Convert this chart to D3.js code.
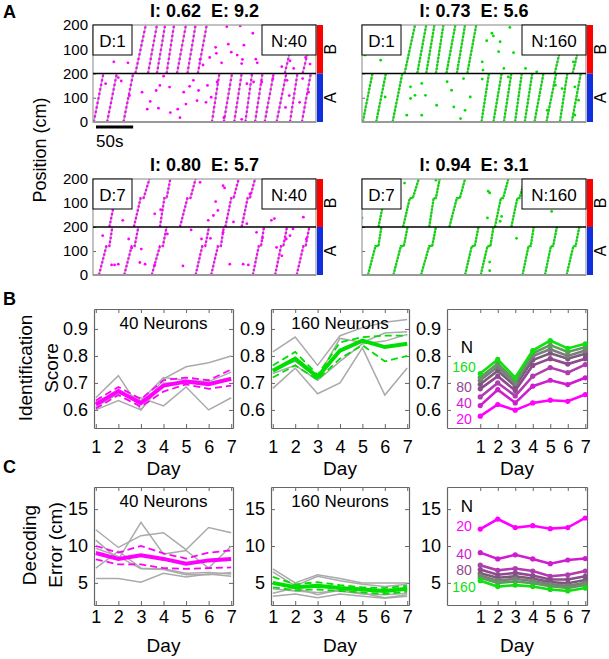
<!DOCTYPE html>
<html lang="en">
<head>
<meta charset="UTF-8">
<script src="https://d3js.org/d3.v7.min.js"></script>
<title>Decoding across days</title>
<style>
  body { margin: 0; background: #fff; }
  svg { font-family: "Liberation Sans", Arial, sans-serif; }
  .ax .domain { stroke: #666; }
  .ax .tick line { stroke: #666; }
  .ax text { fill: #000; }
</style>
</head>
<body>
<svg id="fig" width="609" height="659"></svg>
<script>
// ---------- panel A : true laps [env, t start (s), t end] or [env, t0, pause start, pause end, t end]
var pausePos = 120;
var lapsD1 = [
  ["A", 1, 14], ["A", 19, 32], ["A", 41, 54],
  ["B", 57, 71], ["B", 74, 86], ["B", 86, 97], ["B", 99, 109], ["B", 113, 125], ["B", 127, 138], ["B", 141, 153],
  ["A", 160, 170], ["A", 176, 187], ["A", 190, 200], ["A", 205, 214], ["A", 218, 228],
  ["A", 231, 243], ["A", 247, 260], ["A", 265, 275], ["A", 281, 293]
];
var stubsD1 = [["B", 258, 265, 90], ["B", 282, 288, 75]];
var lapsD7 = [
  ["A", 8, 18, 22, 26], ["A", 42, 52, 56, 61], ["A", 79, 90, 94, 99], ["A", 138, 147, 151, 156],
  ["A", 159, 168, 172, 176], ["A", 215, 223, 226, 230], ["A", 245, 253, 256, 261], ["A", 274, 283, 286, 291],
  ["B", 22, 30, 34, 40], ["B", 55, 64, 68, 76], ["B", 90, 96, 99, 104], ["B", 117, 127, 131, 138],
  ["B", 178, 186, 189, 196], ["B", 200, 208, 211, 218]
];

// decoded samples far from the true position [t, cm, env]
var strayD1N40 = [
  [28,48,"B"],[47,44,"B"],[144,58,"B"],[157,66,"B"],[165,108,"B"],[166,83,"B"],[182,121,"B"],[186,88,"B"],
  [194,76,"B"],[201,58,"B"],[203,117,"B"],[180,193,"B"],[198,196,"B"],[215,166,"B"],[219,59,"B"],[221,44,"B"],
  [245,97,"B"],[254,28,"B"],[265,52,"B"],[270,21,"B"],[286,66,"B"],[292,39,"B"],[200,41,"B"],[148,35,"B"],[173,44,"B"],
  [17,158,"A"],[34,183,"A"],[38,169,"A"],[49,109,"A"],[66,123,"A"],[73,53,"A"],[77,85,"A"],[88,57,"A"],
  [85,130,"A"],[90,151,"A"],[103,144,"A"],[104,39,"A"],[114,53,"A"],[117,18,"A"],[122,123,"A"],[125,74,"A"],
  [130,147,"A"],[140,88,"A"],[142,130,"A"],[152,81,"A"],[154,151,"A"],[159,102,"A"],[167,165,"A"],[207,158,"A"],
  [216,165,"A"],[227,165,"A"],[242,179,"A"],[261,172,"A"],[264,109,"A"],[259,60,"A"],[278,81,"A"],[282,179,"A"],
  [290,123,"A"],[176,18,"A"],[200,11,"A"],[95,189,"A"],[135,172,"A"]
];
var strayD1N160 = [
  [25,55,"B"],[4,76,"B"],[167,135,"B"],[174,166,"B"],[176,155,"B"],[185,131,"B"],[198,190,"B"],[203,86,"B"],
  [183,90,"B"],[161,48,"B"],[162,14,"B"],[190,21,"B"],[219,21,"B"],[234,7,"B"],[283,48,"B"],
  [31,103,"A"],[65,145,"A"],[71,110,"A"],[65,97,"A"],[85,110,"A"],[80,159,"A"],[100,69,"A"],[114,166,"A"],
  [120,131,"A"],[123,62,"A"],[138,48,"A"],[145,103,"A"],[136,179,"A"],[60,28,"A"],[80,28,"A"],[132,14,"A"],
  [161,177,"A"],[196,186,"A"],[248,48,"A"],[259,152,"A"],[268,138,"A"],[285,145,"A"],[285,28,"A"],[290,90,"A"]
];
var strayD7N40 = [
  [0,83,"B"],[40,28,"B"],[83,55,"B"],[91,72,"B"],[144,186,"B"],[155,28,"B"],[162,48,"B"],[165,106,"B"],
  [168,69,"B"],[175,172,"B"],[177,163,"B"],[211,138,"B"],[240,28,"B"],[244,35,"B"],[283,41,"B"],[189,21,"B"],[207,14,"B"],
  [13,164,"A"],[25,42,"A"],[29,42,"A"],[34,45,"A"],[48,150,"A"],[52,112,"A"],[65,108,"A"],[63,52,"A"],
  [70,45,"A"],[83,41,"A"],[100,171,"A"],[121,38,"A"],[132,188,"A"],[146,150,"A"],[158,153,"A"],[175,178,"A"],
  [184,45,"A"],[202,45,"A"],[209,42,"A"],[220,178,"A"],[228,154,"A"],[247,115,"A"],[254,80,"A"],[260,150,"A"],
  [269,192,"A"],[287,150,"A"],[265,164,"A"]
];
var strayD7N160 = [
  [0,100,"B"],[0,38,"B"],[57,183,"B"],[99,195,"B"],[169,149,"B"],[171,142,"B"],[168,38,"B"],[185,24,"B"],
  [187,44,"B"],[254,65,"B"],
  [207,153,"A"],[171,54,"A"],[171,18,"A"]
];

// ---------- panels B and C
var days = [1, 2, 3, 4, 5, 6, 7];

var idMean40 = [0.62, 0.67, 0.625, 0.69, 0.705, 0.695, 0.715];
var idUp40 = [0.635, 0.685, 0.64, 0.71, 0.72, 0.71, 0.75];
var idLo40 = [0.605, 0.655, 0.612, 0.668, 0.695, 0.678, 0.69];
var idMice40 = [
  [0.645, 0.727, 0.60, 0.715, 0.76, 0.775, 0.80],
  [0.60, 0.635, 0.60, 0.70, 0.70, 0.70, 0.72],
  [0.61, 0.66, 0.645, 0.615, 0.685, 0.60, 0.645],
  [0.63, 0.665, 0.635, 0.72, 0.71, 0.705, 0.74]
];
var idMean160 = [0.745, 0.79, 0.722, 0.82, 0.857, 0.833, 0.845];
var idUp160 = [0.765, 0.815, 0.73, 0.85, 0.87, 0.875, 0.875];
var idLo160 = [0.72, 0.765, 0.712, 0.79, 0.84, 0.78, 0.80];
var idMice160 = [
  [0.815, 0.87, 0.765, 0.875, 0.905, 0.925, 0.935],
  [0.68, 0.755, 0.66, 0.70, 0.83, 0.655, 0.755],
  [0.75, 0.78, 0.72, 0.865, 0.85, 0.885, 0.89],
  [0.735, 0.765, 0.71, 0.78, 0.845, 0.855, 0.88]
];

var neuronCounts = [20, 40, 60, 80, 100, 120, 140, 160];
var idByN = [
  [0.577, 0.62, 0.599, 0.626, 0.636, 0.632, 0.657],
  [0.616, 0.675, 0.626, 0.688, 0.71, 0.694, 0.719],
  [0.648, 0.70, 0.652, 0.725, 0.757, 0.738, 0.768],
  [0.678, 0.725, 0.672, 0.765, 0.79, 0.77, 0.79],
  [0.695, 0.745, 0.688, 0.785, 0.81, 0.79, 0.808],
  [0.71, 0.76, 0.698, 0.80, 0.825, 0.80, 0.82],
  [0.72, 0.772, 0.708, 0.81, 0.84, 0.815, 0.832],
  [0.735, 0.787, 0.72, 0.82, 0.857, 0.828, 0.845]
];

var errMean40 = [9.05, 8.25, 8.75, 8.25, 7.6, 8.05, 8.25];
var errUp40 = [10.0, 9.1, 10.0, 9.0, 8.3, 9.1, 9.4];
var errLo40 = [8.2, 7.5, 7.5, 7.0, 6.9, 7.0, 7.1];
var errMice40 = [
  [12.2, 9.8, 11.4, 11.8, 9.5, 12.5, 11.8],
  [10.8, 8.2, 13.2, 8.9, 9.4, 7.0, 10.0],
  [7.0, 9.3, 7.0, 6.9, 6.3, 6.4, 6.2],
  [5.6, 5.6, 5.1, 6.3, 5.8, 6.2, 5.9],
  [9.7, 8.6, 6.9, 6.8, 6.1, 6.1, 6.4]
];
var errMean160 = [5.0, 4.4, 4.6, 4.3, 4.1, 3.9, 4.2];
var errUp160 = [5.8, 4.8, 5.1, 4.7, 4.4, 4.3, 4.6];
var errLo160 = [4.4, 4.0, 4.1, 3.9, 3.7, 3.5, 3.8];
var errMice160 = [
  [6.9, 5.0, 6.1, 5.6, 5.0, 5.0, 5.0],
  [6.5, 4.6, 5.9, 5.3, 4.8, 4.5, 4.8],
  [3.6, 4.3, 3.4, 4.1, 3.6, 3.0, 3.4],
  [3.2, 3.5, 3.0, 3.5, 3.2, 2.9, 3.2],
  [4.2, 3.9, 3.7, 3.9, 3.5, 3.4, 3.6]
];
var errByN = [
  [12.3, 13.65, 12.5, 12.75, 12.35, 12.5, 13.8],
  [9.1, 8.25, 8.8, 8.25, 7.6, 8.1, 8.3],
  [7.4, 6.7, 6.95, 6.6, 5.9, 6.1, 6.6],
  [6.8, 6.1, 6.35, 6.0, 5.45, 5.45, 5.9],
  [6.3, 5.7, 5.9, 5.6, 5.1, 4.95, 5.4],
  [6.0, 5.3, 5.55, 5.25, 4.8, 4.6, 5.0],
  [5.7, 5.0, 5.2, 4.95, 4.55, 4.3, 4.7],
  [5.3, 4.5, 4.7, 4.5, 4.1, 3.9, 4.3]
];

// ---------- styles
var magenta = "#f0f", green = "#0d0", grayLine = "#aaa";
var nColors = ["#ff00ff", "#d01cd0", "#b03cb0", "#8e4a8e", "#7a5a7a", "#7c7c7c", "#5e9a5e", "#10e010"];

var svg = d3.select("#fig");

function raster(c) {
  var x = d3.scaleLinear().domain([0, 300]).range([c.x0, c.x1]);
  var mid = (c.y0 + c.y1) / 2;
  var yB = d3.scaleLinear().domain([0, 200]).range([mid, c.y0]);
  var yA = d3.scaleLinear().domain([0, 200]).range([c.y1, mid]);
  function yy(env, p) { return env === "A" ? yA(p) : yB(p); }

  svg.append("clipPath").attr("id", "clip" + c.id)
    .append("rect").attr("x", c.x0).attr("y", c.y0)
    .attr("width", c.x1 - c.x0).attr("height", c.y1 - c.y0);
  var body = svg.append("g").attr("clip-path", "url(#clip" + c.id + ")");

  var paths = c.laps.map(function(l) {
    if (l.length === 3) return [[l[1], yy(l[0], 0)], [l[2], yy(l[0], 200)]];
    return [[l[1], yy(l[0], 0)], [l[2], yy(l[0], pausePos)], [l[3], yy(l[0], pausePos)], [l[4], yy(l[0], 200)]];
  }).concat(c.stubs.map(function(s) { return [[s[1], yy(s[0], 0)], [s[2], yy(s[0], s[3])]]; }));

  var line = d3.line().x(function(d) { return x(d[0]); }).y(function(d) { return d[1]; });

  body.selectAll(".traj").data(paths).enter().append("path")
    .attr("class", "traj").attr("d", line)
    .attr("fill", "none").attr("stroke", grayLine).attr("stroke-width", 1.6);
  body.selectAll(".dec").data(paths).enter().append("path")
    .attr("class", "dec").attr("d", line)
    .attr("fill", "none").attr("stroke", c.color).attr("stroke-width", 2.3)
    .attr("stroke-dasharray", c.dash);
  body.selectAll(".stray").data(c.strays).enter().append("circle")
    .attr("class", "stray")
    .attr("cx", function(d) { return x(d[0]); })
    .attr("cy", function(d) { return yy(d[2], d[1]); })
    .attr("r", 1.4).attr("fill", c.color);

  // axes (inward ticks)
  var fmt = c.labels ? d3.format("d") : function() { return ""; };
  [[yB, [100, 200]], [yA, [0, 100, 200]]].forEach(function(a) {
    var ax = svg.append("g").attr("class", "ax")
      .attr("transform", "translate(" + c.x0 + ",0)")
      .call(d3.axisLeft(a[0]).tickValues(a[1]).tickSizeInner(-3).tickSizeOuter(0).tickPadding(5).tickFormat(fmt));
    ax.select(".domain").remove();
    ax.attr("font-size", 15);
  });

  // frame
  svg.append("rect").attr("x", c.x0).attr("y", c.y0)
    .attr("width", c.x1 - c.x0).attr("height", c.y1 - c.y0)
    .attr("fill", "none").attr("stroke", "#999").attr("stroke-width", 1.2);
  svg.append("line").attr("x1", c.x0).attr("x2", c.x1).attr("y1", c.y1).attr("y2", c.y1)
    .attr("stroke", "#999").attr("stroke-width", 2.2);
  svg.append("line").attr("x1", c.x0).attr("x2", c.x1).attr("y1", mid).attr("y2", mid)
    .attr("stroke", "#000").attr("stroke-width", 1.5);

  // day / neuron boxes
  svg.append("rect").attr("x", c.x0).attr("y", c.y0).attr("width", 39).attr("height", 30)
    .attr("fill", "#fff").attr("stroke", "#000").attr("stroke-width", 1);
  svg.append("text").attr("x", c.x0 + 19.5).attr("y", c.y0 + 22).attr("text-anchor", "middle")
    .attr("font-size", 17).text("D:" + c.day);
  svg.append("rect").attr("x", c.x1 - c.nBox).attr("y", c.y0).attr("width", c.nBox).attr("height", 30)
    .attr("fill", "#fff").attr("stroke", "#000").attr("stroke-width", 1);
  svg.append("text").attr("x", c.x1 - c.nBox / 2).attr("y", c.y0 + 22).attr("text-anchor", "middle")
    .attr("font-size", 17).text("N:" + c.n);

  // environment bar
  svg.append("rect").attr("x", c.x1 + 1).attr("y", c.y0).attr("width", 6).attr("height", mid - c.y0).attr("fill", "#f00");
  svg.append("rect").attr("x", c.x1 + 1).attr("y", mid).attr("width", 6).attr("height", c.y1 - mid).attr("fill", "#1030e0");
  [["B", (c.y0 + mid) / 2], ["A", (mid + c.y1) / 2]].forEach(function(e) {
    svg.append("text").attr("transform", "translate(" + (c.x1 + 20) + "," + e[1] + ") rotate(-90)")
      .attr("text-anchor", "middle").attr("font-size", 16).text(e[0]);
  });

  // score title
  svg.append("text").attr("x", (c.x0 + c.x1) / 2).attr("y", c.y0 - 8)
    .attr("text-anchor", "middle").attr("font-size", 18).attr("font-weight", "bold")
    .style("white-space", "pre").text(c.title);

  if (c.scalebar) {
    svg.append("line").attr("x1", x(4)).attr("x2", x(54)).attr("y1", c.y1 + 5).attr("y2", c.y1 + 5)
      .attr("stroke", "#000").attr("stroke-width", 3);
    svg.append("text").attr("x", x(4)).attr("y", c.y1 + 25).attr("font-size", 17).text("50s");
  }
}

raster({ id: 1, x0: 93, x1: 316, y0: 25, y1: 122, laps: lapsD1, stubs: stubsD1, strays: strayD1N40,
  color: magenta, dash: "2.2,2.4", day: 1, n: 40, nBox: 54, title: "I: 0.62  E: 9.2", labels: true, scalebar: true });
raster({ id: 2, x0: 362, x1: 586, y0: 25, y1: 122, laps: lapsD1, stubs: stubsD1, strays: strayD1N160,
  color: green, dash: "2.4,1.2", day: 1, n: 160, nBox: 64, title: "I: 0.73  E: 5.6", labels: false });
raster({ id: 3, x0: 93, x1: 316, y0: 179, y1: 275, laps: lapsD7, stubs: [], strays: strayD7N40,
  color: magenta, dash: "2.2,1.8", day: 7, n: 40, nBox: 54, title: "I: 0.80  E: 5.7", labels: true });
raster({ id: 4, x0: 362, x1: 586, y0: 179, y1: 275, laps: lapsD7, stubs: [], strays: strayD7N160,
  color: green, dash: "2.4,0.9", day: 7, n: 160, nBox: 64, title: "I: 0.94  E: 3.1", labels: false });

svg.append("text").attr("transform", "translate(46,150) rotate(-90)").attr("text-anchor", "middle")
  .attr("font-size", 18).text("Position (cm)");

function lineChart(c) {
  var x = d3.scaleLinear().domain(c.xdom).range([c.x0, c.x1]);
  var y = d3.scaleLinear().domain(c.ydom).range([c.y1, c.y0]);
  var line = d3.line().x(function(d, i) { return x(days[i]); }).y(function(d) { return y(d); });
  var none = function() { return ""; };

  var axB = svg.append("g").attr("class", "ax").attr("transform", "translate(0," + c.y1 + ")")
    .call(d3.axisBottom(x).tickValues(days).tickSizeInner(-4).tickSizeOuter(0).tickPadding(c.xpad)
      .tickFormat(d3.format("d")));
  var axT = svg.append("g").attr("class", "ax").attr("transform", "translate(0," + c.y0 + ")")
    .call(d3.axisTop(x).tickValues(days).tickSizeInner(-4).tickSizeOuter(0).tickFormat(none));
  var axL = svg.append("g").attr("class", "ax").attr("transform", "translate(" + c.x0 + ",0)")
    .call(d3.axisLeft(y).tickValues(c.yticks).tickSizeInner(-4).tickSizeOuter(0).tickPadding(6).tickFormat(c.yfmt));
  var axR = svg.append("g").attr("class", "ax").attr("transform", "translate(" + c.x1 + ",0)")
    .call(d3.axisRight(y).tickValues(c.yticks).tickSizeInner(-4).tickSizeOuter(0).tickFormat(none));
  [axB, axT, axL, axR].forEach(function(a) { a.attr("font-size", 18); a.select(".domain").attr("stroke-width", 1.2); });

  c.grays.forEach(function(v) {
    svg.append("path").datum(v).attr("d", line).attr("fill", "none")
      .attr("stroke", grayLine).attr("stroke-width", 1.5);
  });
  if (c.bands) {
    c.bands.forEach(function(v) {
      svg.append("path").datum(v).attr("d", line).attr("fill", "none")
        .attr("stroke", c.color).attr("stroke-width", 1.8).attr("stroke-dasharray", "7,4");
    });
    svg.append("path").datum(c.mean).attr("d", line).attr("fill", "none")
      .attr("stroke", c.color).attr("stroke-width", 4);
  }
  if (c.byN) {
    c.byN.forEach(function(v, k) {
      svg.append("path").datum(v).attr("d", line).attr("fill", "none")
        .attr("stroke", nColors[k]).attr("stroke-width", 2.6);
      svg.selectAll(null).data(v).enter().append("circle")
        .attr("cx", function(d, i) { return x(days[i]); })
        .attr("cy", function(d) { return y(d); })
        .attr("r", 2.6).attr("fill", nColors[k]);
    });
    svg.append("text").attr("x", 467).attr("y", c.nLabelY[0]).attr("text-anchor", "middle")
      .attr("font-size", 17).text("N");
    c.nLabels.forEach(function(k, j) {
      svg.append("text").attr("x", 464).attr("y", c.nLabelY[j + 1]).attr("text-anchor", "middle")
        .attr("font-size", 14).attr("fill", nColors[neuronCounts.indexOf(k)]).text(k);
    });
  }
  if (c.label) {
    svg.append("text").attr("x", (c.x0 + c.x1) / 2).attr("y", c.y0 + 20).attr("text-anchor", "middle")
      .attr("font-size", 17).text(c.label);
  }
  svg.append("text").attr("x", (c.x0 + c.x1) / 2).attr("y", c.dayY).attr("text-anchor", "middle")
    .attr("font-size", 19).text("Day");
}

var cols = [[94, 233, [0.92, 7.08]], [271, 409, [0.92, 7.08]], [447, 587, [-0.9, 7.1]]];
var fmtB = d3.format(".1f"), fmtC = d3.format("d");

lineChart({ x0: cols[0][0], x1: cols[0][1], xdom: cols[0][2], y0: 309, y1: 428, ydom: [0.533, 0.974],
  yticks: [0.6, 0.7, 0.8, 0.9], yfmt: fmtB, xpad: 12, dayY: 475,
  grays: idMice40, bands: [idUp40, idLo40], mean: idMean40, color: magenta, label: "40 Neurons" });
lineChart({ x0: cols[1][0], x1: cols[1][1], xdom: cols[1][2], y0: 309, y1: 428, ydom: [0.533, 0.974],
  yticks: [0.6, 0.7, 0.8, 0.9], yfmt: fmtB, xpad: 12, dayY: 475,
  grays: idMice160, bands: [idUp160, idLo160], mean: idMean160, color: green, label: "160 Neurons" });
lineChart({ x0: cols[2][0], x1: cols[2][1], xdom: cols[2][2], y0: 309, y1: 428, ydom: [0.533, 0.974],
  yticks: [0.6, 0.7, 0.8, 0.9], yfmt: fmtB, xpad: 12, dayY: 475,
  grays: [], byN: idByN, nLabels: [160, 80, 40, 20], nLabelY: [353, 372, 392, 408, 424] });

lineChart({ x0: cols[0][0], x1: cols[0][1], xdom: cols[0][2], y0: 487, y1: 605, ydom: [2, 18],
  yticks: [5, 10, 15], yfmt: fmtC, xpad: 5, dayY: 652,
  grays: errMice40, bands: [errUp40, errLo40], mean: errMean40, color: magenta, label: "40 Neurons" });
lineChart({ x0: cols[1][0], x1: cols[1][1], xdom: cols[1][2], y0: 487, y1: 605, ydom: [2, 18],
  yticks: [5, 10, 15], yfmt: fmtC, xpad: 5, dayY: 652,
  grays: errMice160, bands: [errUp160, errLo160], mean: errMean160, color: green, label: "160 Neurons" });
lineChart({ x0: cols[2][0], x1: cols[2][1], xdom: cols[2][2], y0: 487, y1: 605, ydom: [2, 18],
  yticks: [5, 10, 15], yfmt: fmtC, xpad: 5, dayY: 652,
  grays: [], byN: errByN, nLabels: [20, 40, 80, 160], nLabelY: [512, 531, 559, 575, 592] });

// axis titles and panel letters
[["Identification", 32, 368], ["Score", 58, 368], ["Decoding", 36, 545], ["Error (cm)", 62, 545]].forEach(function(t) {
  svg.append("text").attr("transform", "translate(" + t[1] + "," + t[2] + ") rotate(-90)")
    .attr("text-anchor", "middle").attr("font-size", 19).text(t[0]);
});
[["A", 18], ["B", 305], ["C", 473]].forEach(function(p) {
  svg.append("text").attr("x", 3).attr("y", p[1]).attr("font-size", 18).attr("font-weight", "bold").text(p[0]);
});
</script>
</body>
</html>
